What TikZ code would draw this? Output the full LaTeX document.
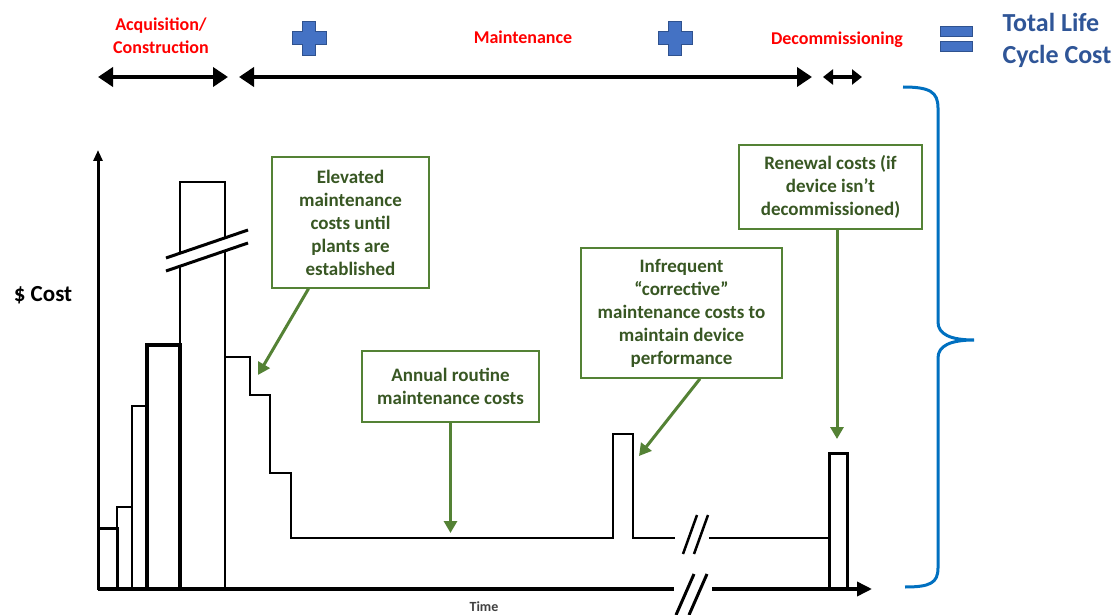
\documentclass[tikz,border=0pt]{standalone}
\usepackage{fontspec}
\setmainfont{Carlito}
\usetikzlibrary{arrows.meta}

\definecolor{boxgreen}{RGB}{84,130,53}
\definecolor{textgreen}{RGB}{56,87,35}
\definecolor{plusblue}{RGB}{68,114,196}
\definecolor{plusedge}{RGB}{47,82,143}
\definecolor{titleblue}{RGB}{47,85,151}
\definecolor{bracecol}{RGB}{0,112,192}

\tikzset{
  note/.style={draw=boxgreen, line width=1.5pt, fill=white, text=textgreen,
    font=\fontsize{19}{23}\selectfont\bfseries, align=center, inner sep=0pt},
  phase/.style={text=red, font=\fontsize{18}{23}\selectfont\bfseries, align=center},
  pointer/.style={draw=boxgreen, line width=3pt, -{Triangle[length=12pt,width=13pt]}},
  span/.style={line width=4pt, {Triangle[length=15pt,width=19pt]}-{Triangle[length=15pt,width=19pt]}},
  trace/.style={line width=2.5pt},
  pics/plussign/.style={code={
    \draw[fill=plusblue, draw=plusedge, line width=1pt]
      (-6.5,-17) -- (6.5,-17) -- (6.5,-6.5) -- (17,-6.5) -- (17,6.5) -- (6.5,6.5)
      -- (6.5,17) -- (-6.5,17) -- (-6.5,6.5) -- (-17,6.5) -- (-17,-6.5) -- (-6.5,-6.5) -- cycle;
  }},
}

\begin{document}
\begin{tikzpicture}[x=1pt,y=-1pt]
  \useasboundingbox[fill=white] (0,0) rectangle (1117,615);

  % phases along the top
  \node[phase] (acq) at (161,36) {Acquisition/\\Construction};
  \node[phase] (maint) at (523,37) {Maintenance};
  \node[phase] (decom) at (837,40) {Decommissioning};
  \pic at (309,38.5) {plussign};
  \pic at (675,38.5) {plussign};
  \draw[fill=plusblue, draw=plusedge, line width=1pt] (940,27) rectangle (972,37);
  \draw[fill=plusblue, draw=plusedge, line width=1pt] (940,42) rectangle (972,52);
  \node[text=titleblue, font=\fontsize{26}{32}\selectfont\bfseries, align=left, anchor=west]
    (total) at (999,40) {Total Life\\Cycle Cost};

  \coordinate (acqL) at (98,77);
  \coordinate (acqR) at (228,77);
  \coordinate (maintL) at (239,77);
  \coordinate (maintR) at (812,77);
  \coordinate (decomL) at (823,77);
  \coordinate (decomR) at (862,77);
  \draw[span] (acqL) -- (acqR);
  \draw[span] (maintL) -- (maintR);
  \draw[line width=4pt, {Triangle[length=10pt,width=15pt]}-{Triangle[length=10pt,width=15pt]}]
    (decomL) -- (decomR);

  % brace
  \draw[bracecol, line width=3pt]
    (903,87) .. controls (930,87) and (938,92) .. (938,108) -- (938,322)
    .. controls (938,334) and (950,340) .. (974,340)
    .. controls (950,340) and (938,346) .. (938,358) -- (938,568)
    .. controls (938,583) and (930,587) .. (905,587);

  % axes
  \node[font=\fontsize{23}{26}\selectfont\bfseries] (cost) at (43,295) {\$ Cost};
  \node[text=black!75, font=\fontsize{14}{16}\selectfont\bfseries] (time) at (484,607) {Time};
  \draw[line width=3pt, -{Triangle[length=11pt,width=9pt]}] (98,590) -- (98,150);
  \draw[line width=3.5pt] (98,589) -- (674,589);
  \draw[line width=3.5pt, -{Triangle[length=15pt,width=14pt]}] (712,589) -- (872,589);
  \draw[line width=3pt] (676,615) -- (694,574) (689,615) -- (707,574);

  % construction bars
  \draw[line width=3pt] (98,528) -- (117,528) -- (117,589);
  \draw[trace] (117,589) -- (117,507) -- (132,507) -- (132,589);
  \draw[trace] (132,589) -- (132,406) -- (147,406) -- (147,589);
  \draw[line width=3.5pt] (147,589) -- (147,345) -- (180,345) -- (180,589);
  \draw[trace] (180,345) -- (180,266) (180,253) -- (180,182) -- (225,182) -- (225,238)
    (225,251) -- (225,589);
  \draw[line width=3pt] (166,258) -- (248,230) (166,271) -- (248,243);

  % maintenance trace
  \draw[trace] (225,357) -- (250,357) -- (250,395) -- (270,395) -- (270,473) -- (291,473)
    -- (291,538) -- (613,538) -- (613,434) -- (633,434) -- (633,538) -- (675,538);
  \draw[trace] (709,538) -- (829,538);
  \draw[trace] (683,554) -- (697,515) (694,554) -- (708,515);
  \draw[line width=3pt] (829,589) -- (829,453) -- (847,453) -- (847,589);

  % notes
  \node[note, minimum width=157pt, minimum height=131pt] (elev) at (350.5,222.5)
    {Elevated\\maintenance\\costs until\\plants are\\established};
  \node[note, minimum width=177pt, minimum height=71pt] (annual) at (450.5,386.5)
    {Annual routine\\maintenance costs};
  \node[note, minimum width=201pt, minimum height=130pt] (corr) at (681.5,313)
    {Infrequent\\``corrective''\\maintenance costs to\\maintain device\\performance};
  \node[note, minimum width=183pt, minimum height=84pt] (renew) at (830.5,187)
    {Renewal costs (if\\device isn’t\\decommissioned)};

  \coordinate (elevtip) at (258,375);
  \coordinate (annualtip) at (450.5,533);
  \coordinate (corrtip) at (639,456);
  \coordinate (renewtip) at (837,439);
  \draw[pointer] ([xshift=-42pt]elev.south) -- (elevtip);
  \draw[pointer] (annual.south) -- (annualtip);
  \draw[pointer] ([xshift=18.5pt]corr.south) -- (corrtip);
  \draw[pointer] ([xshift=6.5pt]renew.south) -- (renewtip);
\end{tikzpicture}
\end{document}
